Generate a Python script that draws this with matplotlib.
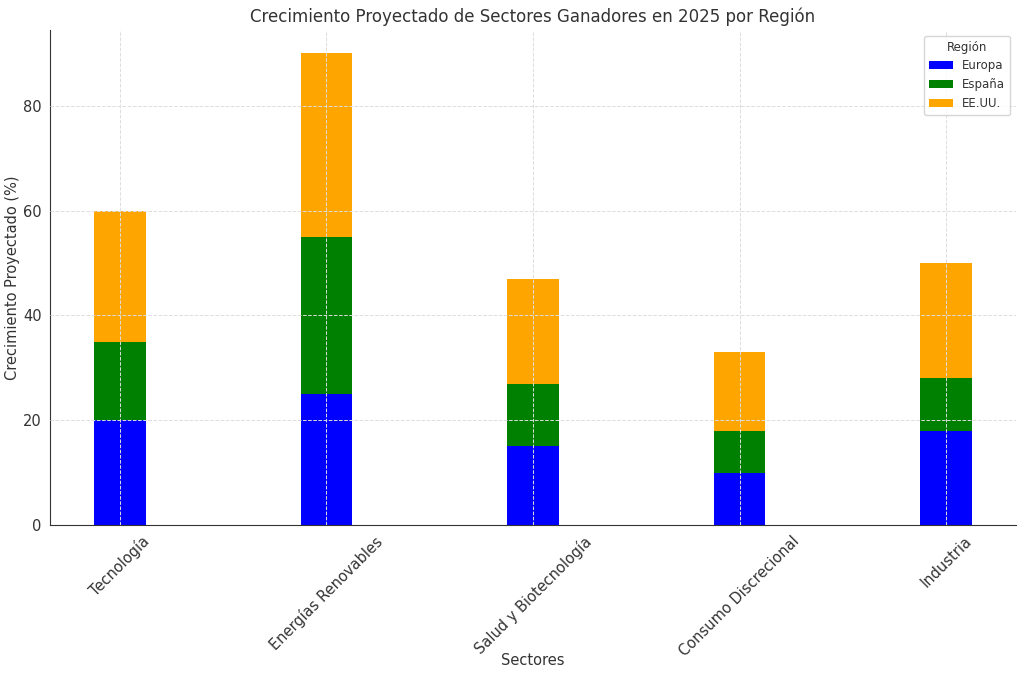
import numpy as np
import matplotlib
matplotlib.use('Agg')
from matplotlib import pyplot as plt

sectores = ['Tecnología', 'Energías Renovables', 'Salud y Biotecnología',
            'Consumo Discrecional', 'Industria']
europa = [20, 25, 15, 10, 18]
espana = [15, 30, 12, 8, 10]
eeuu = [25, 35, 20, 15, 22]

plt.rcParams['font.family'] = ['DejaVu Sans']
plt.rcParams['text.color'] = '#333333'
plt.rcParams['axes.labelcolor'] = '#333333'
plt.rcParams['xtick.color'] = '#333333'
plt.rcParams['ytick.color'] = '#333333'

x = np.arange(len(sectores))
w = 0.25
base2 = np.array(europa)
base3 = base2 + np.array(espana)

fig, ax = plt.subplots(figsize=(10.24, 6.8), dpi=100)
ax.bar(x, europa, w, color='blue', label='Europa')
ax.bar(x, espana, w, bottom=base2, color='green', label='España')
ax.bar(x, eeuu, w, bottom=base3, color='orange', label='EE.UU.')

ax.set_xticks(x)
ax.set_xticklabels(sectores, rotation=45, fontsize=10.5)
ax.tick_params(axis='y', labelsize=10.5)
ax.tick_params(length=0, pad=6)
ax.set_title('Crecimiento Proyectado de Sectores Ganadores en 2025 por Región', fontsize=12)
ax.set_xlabel('Sectores', fontsize=10.5, labelpad=-4)
ax.set_ylabel('Crecimiento Proyectado (%)', fontsize=10.5, labelpad=2)
ax.grid(True, linestyle='--', color='#dddddd', linewidth=0.7)
ax.set_axisbelow(False)
for s in ['top', 'right']:
    ax.spines[s].set_visible(False)
for s in ['left', 'bottom']:
    ax.spines[s].set_color('#333333')
ax.legend(title='Región', fontsize=8.5, title_fontsize=8.5, loc='upper right')

fig.subplots_adjust(left=0.049, right=0.992, top=0.956, bottom=0.228)
fig.savefig('out.png', dpi=100)
